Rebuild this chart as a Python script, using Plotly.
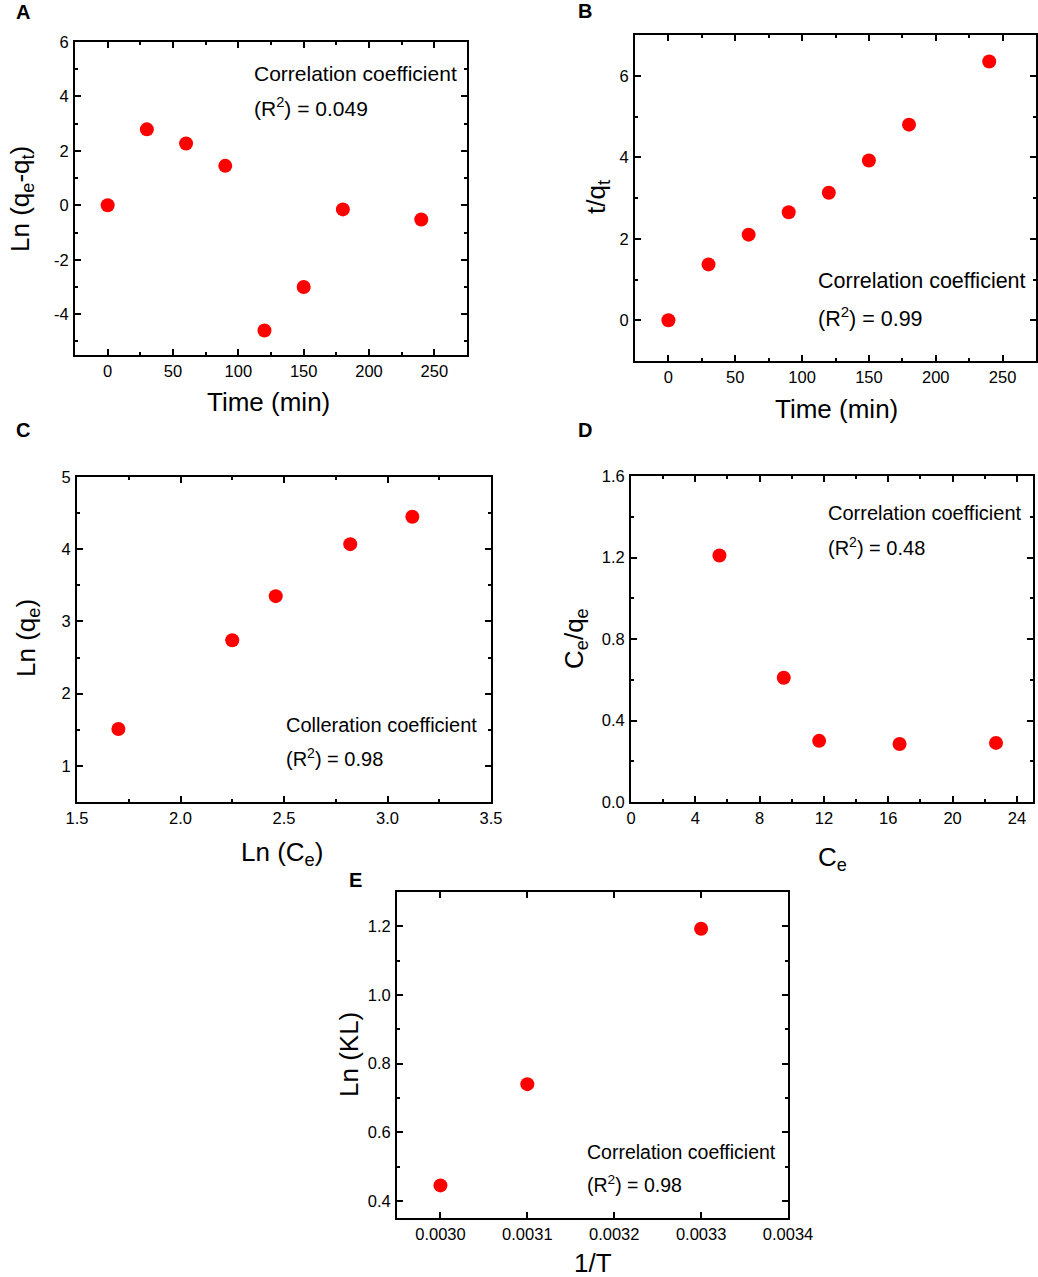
import plotly.graph_objects as go

W, H = 1038, 1277

# (A) pseudo-first-order
time_a = [0, 30, 60, 90, 120, 150, 180, 240]
ln_qe_qt = [0.0, 2.79, 2.27, 1.45, -4.6, -3.0, -0.15, -0.52]
a_yticks = [-4, -2, 0, 2, 4, 6]
a_yticktext = ["-4", "-2", "0", "2", "4", "6"]

# (B) pseudo-second-order
time_b = [0, 30, 60, 90, 120, 150, 180, 240]
t_qt = [0.0, 1.37, 2.1, 2.65, 3.13, 3.92, 4.8, 6.35]

# (C) Freundlich
ln_ce = [1.70, 2.25, 2.46, 2.82, 3.12]
ln_qe = [1.51, 2.74, 3.35, 4.07, 4.45]

# (D) Langmuir
ce = [5.5, 9.5, 11.7, 16.7, 22.7]
ce_qe = [1.21, 0.61, 0.30, 0.285, 0.29]

# (E) thermodynamics
inv_t = [0.003, 0.0031, 0.0033]
ln_kl = [0.445, 0.74, 1.193]

r2_labels = ["(R<sup>2</sup>) = 0.049", "(R<sup>2</sup>) = 0.99", "(R<sup>2</sup>) = 0.98",
             "(R<sup>2</sup>) = 0.48", "(R<sup>2</sup>) = 0.98"]

FONT = "Arial, Liberation Sans, sans-serif"


def px(x):
    return x / W


def py(y):
    return 1 - y / H


# plot boxes in pixels: left, top, right, bottom
boxes = [
    (75, 42, 467, 355),
    (635, 35, 1036, 361),
    (77, 477, 491, 802),
    (631, 476, 1033, 802),
    (397, 892, 788, 1218),
]

fig = go.Figure()

series = [(time_a, ln_qe_qt), (time_b, t_qt), (ln_ce, ln_qe), (ce, ce_qe), (inv_t, ln_kl)]
for i, (xs, ys) in enumerate(series):
    n = "" if i == 0 else str(i + 1)
    fig.add_trace(go.Scatter(x=xs, y=ys, mode="markers", xaxis="x" + n, yaxis="y" + n,
                             marker=dict(color="#ff0000", size=14), showlegend=False))

eps = 1e-9
xaxes = [
    dict(range=[-25, 275], dtick=50, tick0=0, minor=dict(dtick=25)),
    dict(range=[-25, 275], dtick=50, tick0=0, minor=dict(dtick=25)),
    dict(range=[1.5 - eps, 3.5 + eps], dtick=0.5, tick0=1.5, tickformat=".1f", minor=dict(dtick=0.25)),
    dict(range=[0 - eps, 25], dtick=4, tick0=0, minor=dict(dtick=2)),
    dict(range=[0.00295, 0.0034 + 1e-10], dtick=0.0001, tick0=0.003, tickformat=".4f"),
]
yaxes = [
    dict(range=[-5.5, 6 + eps], tickmode="array", tickvals=a_yticks, ticktext=a_yticktext,
         minor=dict(dtick=1, tick0=0)),
    dict(range=[-1, 7], dtick=2, tick0=0, minor=dict(dtick=1)),
    dict(range=[0.5, 5 + eps], dtick=1, tick0=0, minor=dict(dtick=0.5)),
    dict(range=[0 - eps, 1.6 + eps], dtick=0.4, tick0=0, tickformat=".1f", minor=dict(dtick=0.2)),
    dict(range=[0.35, 1.3], dtick=0.2, tick0=0.4, tickformat=".1f", minor=dict(dtick=0.1)),
]

common = dict(showline=True, linecolor="black", linewidth=2, mirror="ticks", ticks="inside",
              ticklen=6, tickwidth=2, tickcolor="black", showgrid=False, zeroline=False,
              automargin=False, tickfont=dict(family=FONT, size=16.5, color="black"))

layout = {}
for i, (l, t, r, b) in enumerate(boxes):
    n = "" if i == 0 else str(i + 1)
    xa = dict(common, **xaxes[i])
    ya = dict(common, **yaxes[i])
    if "minor" in xa:
        xa["minor"] = dict(xa["minor"], ticks="inside", ticklen=3, tickwidth=2, tickcolor="black")
    if "minor" in ya:
        ya["minor"] = dict(ya["minor"], ticks="inside", ticklen=3, tickwidth=2, tickcolor="black")
    xa.update(domain=[px(l), px(r)], anchor="y" + n, ticklabelstandoff=0)
    ya.update(domain=[py(b), py(t)], anchor="x" + n, ticklabelstandoff=1)
    layout["xaxis" + n] = xa
    layout["yaxis" + n] = ya

annotations = []


def note(text, x, y, size, xanchor="left", angle=0, bold=False):
    annotations.append(dict(text="<b>" + text + "</b>" if bold else text,
                            x=px(x), y=py(y), xref="paper", yref="paper",
                            xanchor=xanchor, yanchor="middle", showarrow=False, textangle=angle,
                            font=dict(family=FONT, size=size, color="black")))


# panel letters
for letter, (x, y) in zip("ABCDE", [(23, 12), (585, 11), (23, 430), (585, 430), (355, 880)]):
    note(letter, x, y, 20, xanchor="center", bold=True)

# correlation notes
coef_text = ["Correlation coefficient", "Correlation coefficient", "Colleration coefficient",
             "Correlation coefficient", "Correlation coefficient"]
coef_pos = [(252, 73, 107), (816, 281, 317), (284, 725, 758), (826, 513, 546), (585, 1152, 1184)]
coef_size = [21, 21.5, 20, 20, 19.5]
for txt, r2, (x, y1, y2), s in zip(coef_text, r2_labels, coef_pos, coef_size):
    note(txt, x, y1, s)
    note(r2, x, y2, s)

# axis titles
note("Time (min)", 268, 402, 26, xanchor="center")
note("Time (min)", 836, 409, 26, xanchor="center")
note("Ln (C<sub>e</sub>)", 282, 853, 26, xanchor="center")
note("C<sub>e</sub>", 832, 858, 26, xanchor="center")
note("1/T", 593, 1263, 26, xanchor="center")

note("Ln (q<sub>e</sub>-q<sub>t</sub>)", 21, 199, 26, xanchor="center", angle=-90)
note("t/q<sub>t</sub>", 597, 197, 26, xanchor="center", angle=-90)
note("Ln (q<sub>e</sub>)", 28, 638, 26, xanchor="center", angle=-90)
note("C<sub>e</sub>/q<sub>e</sub>", 576, 638, 26, xanchor="center", angle=-90)
note("Ln (KL)", 349, 1055, 26, xanchor="center", angle=-90)

fig.update_layout(width=W, height=H, margin=dict(l=0, r=0, t=0, b=0, autoexpand=False),
                  paper_bgcolor="white", plot_bgcolor="white",
                  annotations=annotations, **layout)

fig.write_html("out.html", config={"displayModeBar": False},
               post_script="document.body.style.margin = '0px';")
